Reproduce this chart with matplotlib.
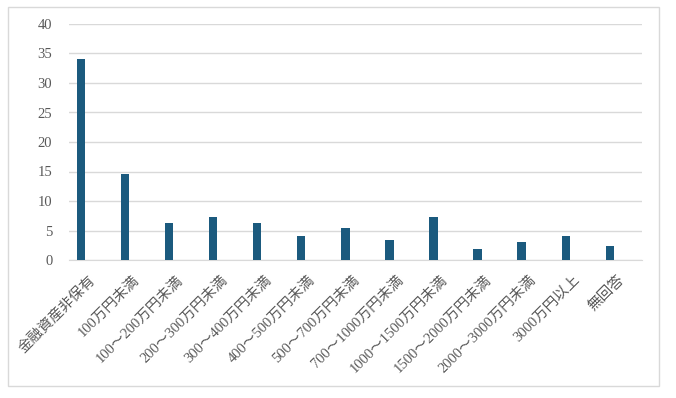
import matplotlib.pyplot as plt
import matplotlib.transforms as mtransforms
from matplotlib.patches import Rectangle

plt.rcParams['font.family'] = ['Liberation Serif', 'Noto Sans CJK JP', 'DejaVu Sans']

categories = ['金融資産非保有', '100万円未満', '100～200万円未満', '200～300万円未満',
              '300～400万円未満', '400～500万円未満', '500～700万円未満',
              '700～1000万円未満', '1000～1500万円未満', '1500～2000万円未満',
              '2000～3000万円未満', '3000万円以上', '無回答']
values = [34.0, 14.5, 6.2, 7.3, 6.2, 4.0, 5.5, 3.4, 7.3, 1.9, 3.1, 4.0, 2.4]
yticks = [0, 5, 10, 15, 20, 25, 30, 35, 40]

W, H = 676, 398
fig = plt.figure(figsize=(W / 100, H / 100), dpi=100)
# outer chart frame
fig.patches.append(Rectangle((8 / W, 1 - 386 / H), (659 - 8) / W, (386 - 7) / H,
                             transform=fig.transFigure, fill=False,
                             edgecolor='#d9d9d9', linewidth=1))

ax = fig.add_axes([69 / W, 1 - 260 / H, (642 - 69) / W, (260 - 24) / H])
x = list(range(len(categories)))
ax.bar(x, values, width=0.19, color='#1b5a7e', zorder=3)

ax.set_xlim(-0.27, len(categories) - 1 + 0.73)
ax.set_ylim(0, 40)
ax.set_yticks(yticks)
ax.yaxis.grid(True, color='#d9d9d9', linewidth=1, zorder=0)
for s in ['top', 'right', 'left']:
    ax.spines[s].set_visible(False)
ax.spines['bottom'].set_color('#d9d9d9')
ax.tick_params(axis='both', length=0, colors='#595959', labelsize=10.5)
ax.tick_params(axis='y', pad=12)

ax.set_xticks(x)
ax.set_xticklabels(categories, rotation=45, ha='right', va='center',
                   rotation_mode='anchor', fontsize=10.5, color='#595959')
offset = mtransforms.ScaledTranslation(12 / 100, -13 / 100, fig.dpi_scale_trans)
for lab in ax.get_xticklabels():
    lab.set_transform(lab.get_transform() + offset)

fig.savefig('out.png', dpi=100)
